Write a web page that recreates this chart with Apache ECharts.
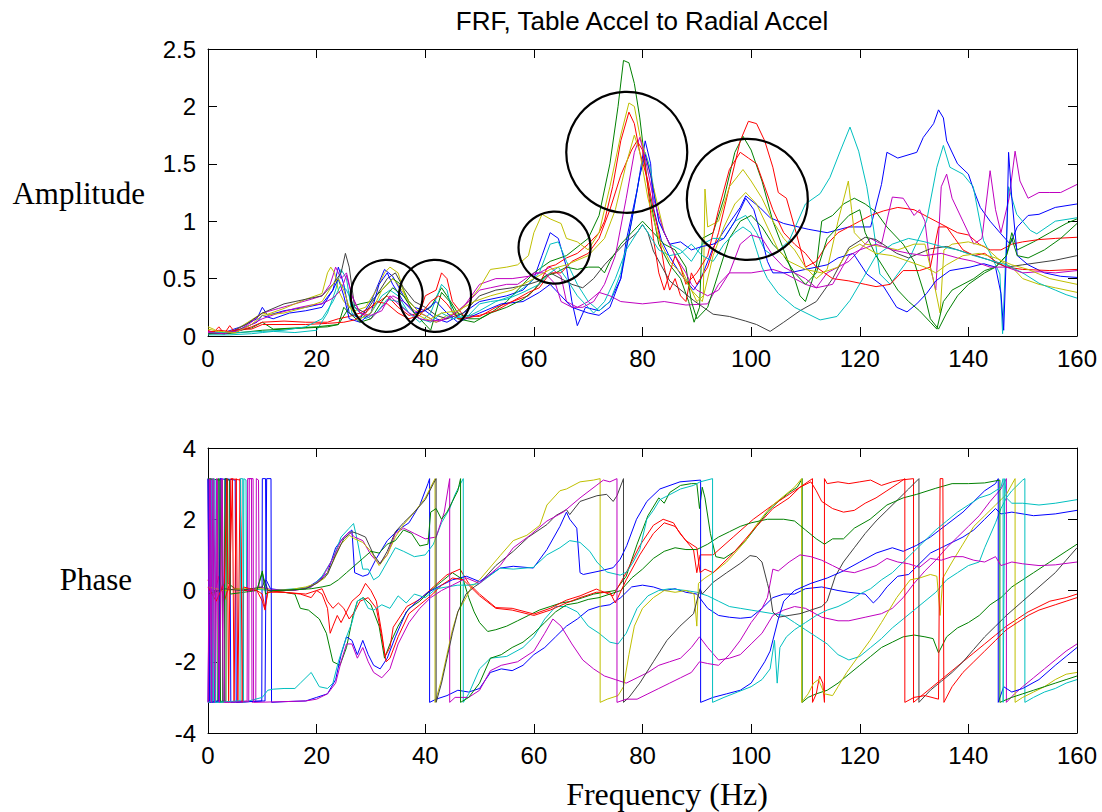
<!DOCTYPE html>
<html><head><meta charset="utf-8">
<script src="https://cdn.jsdelivr.net/npm/echarts@6/dist/echarts.min.js"></script>
<style>html,body{margin:0;padding:0;background:#fff}#c{width:1102px;height:812px}</style>
</head><body><div id="c"></div>
<script>
// ---------------- text ----------------
const chartTitle = 'FRF, Table Accel to Radial Accel';
const ampLabel = 'Amplitude';
const phaseLabel = 'Phase';
const freqLabel = 'Frequency (Hz)';

// ---------------- amplitude traces [Hz, amplitude] ----------------
const ampBlue1 = [[0,0.02],[3,0.03],[6,0.08],[9,0.15],[10,0.25],[11,0.18],[14,0.22],[18,0.25],[21,0.28],[23,0.4],[24,0.6],[25,0.45],[26,0.2],[28,0.15],[30,0.3],[32.5,0.58],[34,0.52],[36,0.35],[38,0.25],[40,0.22],[42,0.15],[44,0.12],[47,0.2],[50,0.3],[55,0.35],[58,0.4],[60,0.5],[61.5,0.7],[63,0.9],[64.5,0.85],[66,0.6],[67,0.3],[68,0.09],[69.5,0.25],[72,0.22],[74,0.3],[76,0.5],[77,0.83],[79,1.27],[80.5,1.7],[81.5,1.5],[82,1.12],[83.5,0.83],[85,0.69],[87,0.54],[89.4,0.4],[90.6,0.48],[93,0.77],[95.5,0.95],[98,1.12],[99,1.22],[101.6,1.12],[103.5,1.03],[106,0.98],[110.5,0.93],[114,0.9],[118,0.95],[122,0.95],[124,1.32],[125,1.6],[127,1.55],[130.5,1.6],[131.7,1.73],[133.6,1.85],[134.5,1.97],[135.4,1.9],[136,1.7],[138,1.5],[140,1.41],[141,1.27],[142.2,1.12],[144,1.0],[146,0.89],[147.7,0.8],[149,0.95],[151,1.05],[153,1.06],[156,1.12],[160,1.15]];
const ampGreen1 = [[0,0.02],[4,0.03],[8,0.07],[10,0.12],[12,0.06],[16,0.07],[20,0.08],[24,0.1],[26,0.25],[28,0.28],[30,0.3],[32,0.4],[34,0.5],[35.5,0.45],[37,0.3],[39,0.2],[41,0.25],[43,0.42],[44,0.35],[46,0.2],[48,0.15],[50,0.15],[52,0.2],[55,0.3],[58,0.45],[60,0.55],[63,0.65],[66,0.7],[70,0.85],[72,1.05],[74,1.5],[75.5,2.0],[76.5,2.4],[77.5,2.38],[78.5,2.2],[79.5,1.9],[81,1.3],[83,0.8],[85,0.62],[87,0.5],[88.5,0.3],[89.5,0.12],[90.5,0.25],[91,0.85],[93,0.9],[95,1.2],[97,1.6],[98.5,1.74],[100,1.62],[102,1.35],[104,1.0],[106,0.75],[108,0.5],[109,0.35],[110,0.3],[112,0.6],[113,1.0],[115,1.05],[117,1.15],[119,1.2],[121,1.15],[123,1.08],[125,0.95],[128,0.8],[130,0.65],[132,0.35],[133,0.15],[134.5,0.06],[136,0.2],[138,0.35],[140,0.45],[143,0.55],[145,0.6],[147,0.7],[148,0.9],[149,0.75],[152,0.82],[155,0.9],[158,0.98],[160,1.02]];
const ampRed1 = [[0,0.05],[1,0.03],[2,0.08],[3,0.02],[4,0.09],[5,0.03],[6,0.05],[8,0.08],[10,0.12],[14,0.13],[18,0.12],[22,0.12],[24,0.15],[26,0.17],[28,0.2],[30,0.25],[33,0.35],[35,0.25],[37,0.18],[39,0.2],[40,0.35],[42,0.4],[43,0.55],[44,0.5],[45,0.3],[47,0.18],[50,0.17],[53,0.25],[56,0.3],[59,0.35],[61,0.45],[62.5,0.6],[64,0.62],[66,0.68],[68,0.72],[70,0.8],[72,0.9],[73,1.0],[74.5,1.3],[76,1.7],[77.5,1.95],[78.5,1.85],[79.5,1.6],[81,1.35],[82,1.1],[83,0.9],[84,0.6],[85,0.4],[86,0.5],[87,0.35],[88,0.3],[89,0.55],[90,0.45],[92,0.6],[94,0.9],[96,1.3],[98,1.7],[99.5,1.87],[101,1.85],[102.5,1.7],[104,1.47],[105,1.25],[106.5,1.2],[108,0.95],[110,0.6],[112,0.65],[114,0.8],[116,0.9],[118,0.95],[120,1.0],[122,1.05],[124.4,1.09],[127,1.12],[130,1.1],[132,1.05],[134,1.0],[136,0.95],[138,0.9],[140,0.88],[142,0.8],[144,0.75],[146,0.75],[148,0.8],[150,0.82],[153,0.84],[156,0.85],[160,0.86]];
const ampCyan1 = [[0,0.01],[4,0.01],[8,0.02],[10,0.03],[12,0.04],[16,0.03],[20,0.05],[22,0.2],[23.5,0.4],[24.5,0.58],[25.5,0.5],[26.5,0.2],[28,0.15],[30,0.2],[32,0.35],[33.5,0.4],[35,0.35],[37,0.2],[39,0.12],[41,0.2],[43,0.45],[44,0.4],[45,0.2],[47,0.15],[50,0.22],[53,0.3],[56,0.35],[59,0.45],[61,0.55],[63,0.8],[64.5,0.82],[66,0.65],[68,0.45],[70,0.3],[72,0.22],[74,0.3],[76,0.55],[78,1.0],[79.5,1.4],[80.5,1.6],[81.5,1.45],[83,1.0],[85,0.8],[87,0.75],[89,0.65],[91,0.8],[93,0.85],[95,0.85],[97,1.0],[99,1.05],[101,0.9],[102.5,0.75],[104,0.7],[107,0.83],[110,1.15],[112.7,1.24],[114.5,1.38],[116.4,1.61],[118.2,1.82],[119.8,1.61],[121.3,1.3],[122.5,0.95],[123.7,0.54],[125.6,0.45],[129.3,0.69],[132.3,1.0],[134.2,1.47],[135.4,1.66],[136.6,1.47],[139,1.41],[140.9,1.3],[142.8,0.83],[144,0.72],[145.8,0.54],[146.3,0.02],[147.4,1.3],[148.9,1.06],[151.4,0.92],[152.6,0.89],[156,1.0],[160,1.03]];
const ampMagenta1 = [[0,0.04],[3,0.03],[6,0.06],[8,0.12],[10,0.2],[13,0.24],[16,0.28],[19,0.32],[21,0.35],[22.5,0.45],[23.5,0.6],[24.5,0.5],[25.5,0.55],[26.5,0.35],[28,0.2],[30,0.15],[32,0.25],[34,0.35],[36,0.3],[38,0.22],[40,0.18],[42,0.12],[44,0.15],[47,0.25],[50,0.45],[53,0.5],[56,0.5],[59,0.52],[61,0.55],[63,0.6],[65,0.52],[66,0.3],[68,0.25],[70,0.3],[72,0.38],[74,0.35],[76,0.3],[80,0.28],[84,0.3],[88,0.27],[92,0.28],[94,0.45],[96,0.55],[100,0.55],[104,0.58],[106,0.55],[108,0.5],[110,0.45],[112,0.42],[114,0.55],[116,0.6],[118,0.65],[120,0.75],[122,0.85],[124,0.8],[126,1.21],[128,1.2],[130,1.05],[131,1.1],[132,1.0],[133,0.6],[134,0.4],[135,1.3],[136,1.41],[137,1.2],[139,1.0],[141,0.8],[142.5,0.85],[144,1.44],[145,1.1],[146,0.9],[147.5,1.2],[148.6,1.61],[149.5,1.35],[151,1.2],[153,1.25],[155,1.25],[157,1.25],[160,1.32]];
const ampYellow1 = [[0,0.08],[1,0.06],[2,0.03],[4,0.02],[6,0.08],[8,0.14],[10,0.2],[11,0.19],[14,0.24],[18,0.32],[21,0.37],[22,0.55],[22.6,0.6],[23.3,0.55],[24,0.4],[25,0.3],[27,0.22],[29,0.25],[31,0.4],[32.5,0.55],[33.5,0.6],[35,0.55],[36.5,0.32],[38,0.2],[40,0.15],[42,0.12],[44,0.18],[46,0.2],[48,0.3],[50,0.42],[52,0.58],[55,0.6],[57,0.62],[59,0.7],[60,0.9],[61.5,1.06],[63,1.02],[65,0.98],[66,0.85],[68,0.82],[70,0.75],[72,0.9],[74,1.3],[76,1.75],[77.5,2.03],[78.5,2.0],[79.5,1.75],[81,1.5],[82,1.3],[84,0.9],[86,0.7],[88,0.5],[90,0.3],[91.2,0.35],[91.5,1.28],[92,0.95],[94,1.0],[96,1.3],[98.5,1.45],[100,1.35],[102,1.2],[104,1.0],[106,0.85],[108,0.75],[110,0.6],[112,0.5],[114,0.58],[116,1.0],[117.9,1.35],[118.5,1.1],[119,0.9],[121,0.8],[124,0.78],[127,0.75],[130,0.8],[132,0.8],[133.5,0.5],[134.8,0.2],[135.5,0.75],[137,0.8],[140,0.82],[143,0.78],[146,0.65],[148,0.6],[150,0.5],[153,0.45],[156,0.42],[160,0.38]];
const ampGray = [[0,0.02],[4,0.03],[7,0.1],[10,0.2],[14,0.28],[18,0.32],[21,0.35],[23,0.45],[24.5,0.55],[25.3,0.72],[26,0.6],[27,0.25],[29,0.2],[31,0.35],[33,0.5],[34.5,0.55],[36,0.42],[38,0.3],[40,0.25],[42,0.18],[44,0.15],[47,0.2],[50,0.35],[53,0.4],[56,0.42],[59,0.45],[61,0.48],[63,0.55],[65,0.5],[67,0.45],[69,0.42],[71,0.5],[73,0.62],[75,0.72],[77,0.82],[79,0.9],[80,0.97],[81,0.9],[82,0.74],[85,0.48],[89.4,0.31],[93,0.19],[96,0.17],[99,0.13],[101,0.1],[103.5,0.04],[106,0.12],[109,0.22],[112,0.3],[115,0.5],[118,0.77],[121,0.86],[123,0.84],[126.8,0.72],[129,0.68],[133,0.76],[136,0.78],[140,0.72],[144,0.66],[147,0.6],[150,0.62],[153,0.64],[156,0.66],[160,0.7]];
const ampBlue2 = [[0,0.03],[3,0.02],[6,0.06],[9,0.12],[10,0.18],[12,0.15],[15,0.2],[18,0.22],[21,0.25],[23,0.4],[24,0.5],[25,0.35],[26,0.15],[28,0.12],[30,0.2],[31.5,0.45],[33,0.55],[34,0.45],[36,0.3],[38,0.2],[40,0.22],[42,0.3],[44,0.2],[46,0.12],[50,0.2],[54,0.28],[58,0.3],[61,0.38],[63,0.45],[65,0.35],[67,0.25],[70,0.2],[72,0.18],[74,0.25],[76,0.5],[78,1.0],[79.5,1.4],[80.5,1.58],[81.5,1.4],[83,1.0],[85,0.8],[87,0.82],[89,0.75],[91,0.78],[93,0.8],[95,0.85],[97,1.0],[99,1.2],[100.5,1.1],[102,0.85],[103,0.65],[104,0.55],[106,0.55],[108,0.56],[110,0.58],[112,0.6],[114,0.62],[116,0.68],[118.8,0.72],[121.3,0.54],[124.4,0.43],[126.8,0.25],[128.7,0.21],[130.5,0.28],[132.3,0.37],[134,0.48],[136.6,0.57],[140.3,0.6],[142.8,0.63],[145,0.6],[146,0.37],[146.5,0.05],[147,0.72],[147.4,1.6],[148,1.2],[149,0.7],[151,0.62],[154,0.55],[157,0.52],[160,0.51]];
const ampGreen2 = [[0,0.02],[3,0.02],[6,0.03],[10,0.05],[14,0.06],[18,0.07],[22,0.08],[24,0.1],[25,0.25],[26,0.2],[28,0.12],[30,0.15],[32,0.3],[34,0.42],[36,0.35],[38,0.2],[40,0.1],[41,0.05],[43,0.38],[44.5,0.3],[46,0.15],[49,0.12],[52,0.2],[55,0.25],[58,0.32],[60,0.4],[62,0.52],[64,0.55],[66,0.6],[68,0.58],[70,0.6],[72,0.6],[73,0.55],[74,0.65],[76,0.8],[78,0.9],[80,1.0],[82,0.9],[84,0.8],[86,0.75],[88,0.6],[89,0.3],[90,0.15],[92,0.25],[94,0.55],[96,0.85],[98,1.0],[100,1.05],[102,0.95],[104,0.8],[106,0.7],[108,0.55],[110,0.45],[112,0.55],[114,0.85],[116,0.95],[118,1.05],[120,1.1],[121,0.9],[123,0.7],[125,0.55],[127,0.4],[129,0.3],[131,0.22],[133,0.12],[134.2,0.06],[135.4,0.3],[137,0.4],[139,0.45],[141,0.5],[143,0.57],[145,0.6],[147,0.7],[148,0.85],[149,0.7],[151,0.68],[154,0.75],[157,0.85],[160,0.98]];
const ampRed2 = [[0,0.03],[2,0.05],[4,0.04],[6,0.06],[8,0.06],[10,0.1],[14,0.1],[18,0.1],[22,0.11],[25,0.12],[27,0.14],[29,0.2],[31,0.3],[33,0.28],[35,0.2],[37,0.15],[39,0.18],[41,0.3],[42.5,0.35],[44,0.28],[46,0.15],[48,0.16],[50,0.18],[53,0.22],[56,0.3],[59,0.38],[61,0.42],[63,0.55],[65,0.55],[67,0.65],[70,0.72],[72,0.85],[74,1.1],[76,1.4],[78,1.62],[79,1.7],[80,1.62],[81,1.3],[82,0.85],[83,0.55],[84,0.4],[85,0.55],[86,0.7],[87,0.6],[88,0.45],[90,0.55],[92,0.7],[94,1.1],[96,1.45],[98,1.6],[99.5,1.55],[101,1.5],[102.5,1.3],[104,1.1],[106,0.9],[108,0.8],[110,0.72],[112,0.6],[115,0.5],[118,0.48],[121,0.45],[123,0.43],[125.6,0.45],[128,0.57],[131,0.57],[133,0.6],[134.5,0.95],[136,0.95],[137.5,0.85],[139,0.75],[141,0.7],[143,0.72],[145,0.65],[147,0.6],[150,0.58],[155,0.57],[160,0.58]];
const ampCyan2 = [[0,0.03],[5,0.03],[10,0.04],[14,0.05],[18,0.08],[21,0.15],[23,0.3],[24.5,0.45],[25.5,0.4],[27,0.25],[29,0.15],[31,0.2],[33,0.32],[35,0.3],[37,0.2],[39,0.15],[41,0.12],[43,0.2],[45,0.15],[48,0.18],[50,0.28],[52,0.3],[55,0.32],[58,0.38],[61,0.45],[63,0.55],[64.5,0.6],[66,0.5],[68,0.35],[70,0.25],[71,0.2],[73,0.3],[75,0.5],[77,0.75],[79,0.9],[80,0.97],[81,0.9],[83,0.75],[85,0.7],[87,0.72],[89,0.8],[91,0.7],[93,0.65],[95,0.8],[97,0.9],[98.5,0.95],[100,0.9],[101,0.75],[102,0.6],[103,0.5],[105,0.37],[108,0.25],[112.7,0.14],[115.8,0.17],[118.2,0.31],[120.7,0.51],[123,0.7],[126,0.8],[129,0.85],[132,0.82],[135,0.78],[138,0.75],[141,0.7],[144,0.66],[147,0.62],[150,0.55],[153,0.46],[156,0.4],[158,0.36],[160,0.33]];
const ampMagenta2 = [[0,0.03],[3,0.02],[6,0.05],[8,0.1],[10,0.15],[13,0.2],[16,0.24],[19,0.27],[21,0.28],[23,0.33],[24.5,0.4],[25.5,0.53],[26.5,0.35],[28,0.2],[30,0.18],[32,0.22],[33.5,0.35],[35,0.28],[37,0.2],[39,0.15],[41,0.13],[43,0.14],[45,0.18],[48,0.3],[50,0.4],[52,0.42],[55,0.45],[57,0.45],[60,0.55],[62,0.55],[64,0.45],[65,0.3],[67,0.25],[69,0.25],[71,0.3],[73,0.45],[75,0.7],[77,1.2],[78.5,1.6],[79.5,1.73],[80.5,1.55],[82,1.2],[84,0.9],[86,0.7],[88,0.55],[89,0.45],[90,0.4],[92,0.35],[94,0.4],[96,0.55],[98,0.8],[100,0.88],[102,0.85],[104,0.7],[106,0.6],[108,0.55],[110,0.5],[112,0.42],[115,0.45],[118,0.7],[120,0.75],[123,0.8],[126,0.75],[129,0.72],[132,0.7],[135,0.72],[138,0.68],[141,0.65],[144,0.6],[147,0.6],[150,0.55],[153,0.56],[156,0.55],[160,0.57]];
const ampYellow2 = [[0,0.06],[2,0.04],[5,0.03],[8,0.1],[10,0.18],[14,0.2],[18,0.25],[21,0.3],[23,0.45],[24,0.5],[25,0.4],[26,0.25],[28,0.15],[30,0.2],[32,0.4],[34,0.5],[35,0.45],[37,0.3],[39,0.2],[41,0.15],[43,0.2],[46,0.22],[49,0.3],[52,0.35],[56,0.4],[60,0.5],[63,0.58],[66,0.62],[70,0.7],[73,0.85],[75,1.1],[77,1.5],[78.5,1.75],[79.5,1.6],[81,1.2],[83,0.85],[85,0.65],[87,0.55],[89,0.4],[91,0.3],[93,0.7],[95,0.95],[97,1.15],[99,1.25],[101,1.15],[103,0.95],[105,0.75],[107,0.65],[110,0.58],[113,0.55],[116,0.6],[118,0.75],[120,0.8],[123,0.72],[126,0.7],[129,0.65],[132,0.6],[134,0.55],[136,0.62],[139,0.7],[142,0.72],[145,0.68],[148,0.62],[151,0.58],[155,0.5],[160,0.45]];

// circled resonance regions: centres [Hz, amplitude]
const circlesSmall = [[32.9,0.35],[41.8,0.35],[63.8,0.77]];
const circlesLarge = [[77.1,1.6],[99.3,1.19]];

// ---------------- phase traces [Hz, rad] (wrapped to +-pi) ----------------
const phaseBlue1 = [[0,-3.14],[0.4,3.14],[0.8,-3.14],[3,-3.1],[3.2,3.14],[5,3.1],[5.2,-3.14],[9.9,-3.1],[10,3.14],[10.6,3.14],[10.7,0.3],[11.5,0.05],[14,0],[18,0.05],[20,0.25],[22,0.5],[23.5,1.2],[25,1.5],[26.5,1.7],[27,0.5],[28.5,0.4],[29.5,0.45],[31,0.9],[33,1.4],[35,1.7],[37,1.9],[39,2.4],[40.5,3.0],[40.8,3.14],[40.8,-3.14],[42,-3.05],[44,-2.95],[46,-2.8],[48,-2.85],[50,-2.75],[52,-2.3],[54,-2.2],[56,-2.25],[58,-2.1],[60,-1.8],[62,-1.6],[64,-1.3],[66,-1.0],[68,-0.8],[70,-0.55],[72,-0.45],[74,-0.4],[76,-0.2],[78,0.1],[80,0.15],[82,0.1],[84,0.0],[86,0.05],[88,-0.05],[90,-0.1],[92,-0.5],[94,-0.7],[96,-0.75],[98,-0.78],[100,-0.75],[102,-0.5],[104,-0.2],[106,-0.1],[108,-0.1],[110,0.05],[113,0.1],[116,0.0],[118,-0.05],[121,-0.1],[122.5,-0.35],[123.5,-0.2],[125,0.1],[127,0.4],[129,0.45],[131,0.75],[133,1.05],[135,1.2],[137,1.35],[139,1.5],[141,1.7],[143,2.0],[145,2.3],[146,2.15],[148,2.2],[152,2.1],[156,2.15],[160,2.25]];
const phaseGreen1 = [[0,-3.14],[1.8,-3.1],[1.9,3.14],[2.6,3.1],[2.7,-3.14],[3.3,-3.1],[3.4,3.14],[3.6,3.1],[3.7,0.2],[5,0.05],[9,0.0],[10,0.5],[10.5,0.2],[11,0],[14,-0.05],[16,-0.1],[17,-0.5],[18.5,-0.55],[20.5,-0.8],[21.8,-1.2],[23,-2.0],[24.3,-2.1],[25.5,-1.6],[26.7,-0.7],[27.5,-0.3],[28.6,-0.2],[30,-0.4],[31.5,-1.0],[32.5,-1.9],[33.5,-1.5],[35,-1.0],[37,-0.5],[39,-0.3],[41,0.0],[43,0.25],[45,0.5],[47,0.3],[48,-0.2],[49,-0.6],[50,-0.9],[51.5,-1.15],[53,-1.1],[55,-1.0],[57,-0.85],[59,-0.7],[61,-0.55],[63,-0.45],[65,-0.35],[67,-0.3],[69,-0.2],[71,-0.1],[73,-0.05],[75,0.0],[77,0.4],[79,1.3],[81,2.1],[83,2.6],[84,2.45],[85,2.75],[87,2.95],[89,3.0],[90,3.0],[90.5,2.3],[91,2.9],[91.5,2.6],[92.5,1.6],[93.5,0.95],[95,0.9],[97,1.1],[99,1.4],[101,1.8],[103,2.2],[105,2.5],[107,2.75],[108.5,2.9],[109.4,3.14],[109.4,-3.14],[110.5,-3.0],[112,-2.9],[114,-2.8],[116,-2.6],[118,-2.35],[120,-2.1],[122,-1.85],[124,-1.6],[126,-1.45],[128,-1.3],[130,-1.25],[132,-1.3],[133.5,-1.35],[134.5,-1.75],[136,-1.3],[138,-1.05],[140,-0.9],[142,-0.7],[144,-0.4],[146,-0.2],[148,0.1],[150,0.3],[152,0.5],[155,0.8],[158,1.1],[160,1.3]];
const phaseRed1 = [[0,0.3],[1,-0.2],[2,0.4],[3,-0.3],[4,0.2],[4.5,3.14],[4.8,-3.14],[5.2,3.14],[5.5,-3.14],[5.9,3.14],[6.2,0.0],[9,0.0],[10,-0.1],[10.5,-0.5],[11,0.0],[14,-0.05],[18,-0.1],[20,0.0],[21,-0.1],[22,-0.5],[22.5,-1.2],[23,-1.0],[23.8,-0.7],[24.5,-0.9],[25.5,-0.6],[26.5,-0.3],[28,-0.1],[29,0.2],[30,0.0],[31,-0.3],[32,-1.2],[32.6,-1.85],[33.5,-1.6],[34.1,-1.03],[36.6,-0.45],[39,-0.25],[41.5,0.1],[44,0.44],[46.4,0.6],[48,0.2],[50,-0.1],[53,-0.48],[56,-0.5],[60,-0.66],[63,-0.5],[66,-0.27],[68.5,-0.15],[71.5,0.04],[74.6,-0.15],[77,0.5],[79.5,1.26],[82,1.83],[83.8,2.0],[85.7,1.9],[86.9,1.6],[89.4,1.14],[90,0.5],[90.6,1.0],[93,1.0],[96.7,1.5],[100.4,2.0],[104,2.4],[107,2.7],[109,2.9],[111.3,3.14],[111.3,-3.14],[112,-2.9],[112.6,-2.4],[113.2,-2.6],[113.5,-3.14],[113.5,3.14],[114,3.0],[116,3.05],[118,3.0],[120,3.05],[122,3.1],[124,2.95],[126,3.05],[127.5,3.1],[129.9,3.14],[129.9,-3.14],[131,-3.0],[133,-2.75],[135,-2.5],[137,-2.25],[139,-2.0],[141,-1.75],[143,-1.5],[145,-1.25],[147,-1.0],[149,-0.8],[151,-0.6],[153,-0.45],[155,-0.3],[158,-0.2],[160,-0.1]];
const phaseCyan1 = [[0,3.14],[0.4,-3.14],[0.7,3.14],[1.0,-3.14],[6.5,-3.1],[6.6,3.14],[7,3.1],[7.1,0.05],[12,0],[16,0.05],[19,0.1],[21,0.4],[23,0.9],[24.5,1.5],[26,1.75],[26.8,1.88],[27.5,1.4],[28.5,0.6],[29.5,0.6],[30.5,0.3],[31.5,0.4],[33,0.8],[34.5,1.2],[36,1.1],[38,0.95],[40,1.0],[41.5,1.3],[43,1.9],[44.5,2.3],[45.5,2.7],[46.5,3.0],[47,3.14],[47,-3.14],[48,-2.9],[50,-2.2],[52,-1.9],[55,-1.85],[58,-1.6],[60,-1.3],[62,-0.8],[64,-0.45],[66,-0.45],[68,-0.6],[70,-1.0],[72,-1.2],[74,-1.45],[75.5,-1.5],[77,-1.2],[79,-0.5],[81,-0.15],[83,0.0],[85,0.05],[88,0.0],[90,-0.05],[92,-0.15],[94,-0.3],[96,-0.45],[98,-0.5],[100,-0.55],[102,-0.6],[104,-0.65],[106,-0.7],[108,-0.9],[110,-1.1],[112,-1.3],[114,-1.5],[116,-1.8],[118,-1.95],[120,-1.85],[122,-1.6],[124,-1.35],[126,-1.05],[128,-0.8],[130,-0.55],[132,-0.3],[134,-0.05],[136,0.3],[138,0.5],[140,0.7],[142,0.8],[143,1.2],[145,1.9],[146,2.3],[147,2.6],[148,2.8],[150,3.1],[150.4,3.14],[150.4,-3.14],[152,-3.0],[154,-2.85],[156,-2.75],[158,-2.6],[160,-2.5]];
const phaseMagenta1 = [[0,3.14],[0.2,-3.14],[0.5,3.14],[0.8,-3.14],[1.1,3.14],[1.4,-3.14],[1.7,3.14],[2.0,-3.14],[2.4,3.14],[2.8,-3.14],[7.2,-3.1],[7.3,3.14],[8,3.14],[8.1,-3.14],[8.8,-3.1],[8.9,3.14],[9.3,3.1],[9.4,0.1],[12,0.02],[16,0],[19,0.1],[21,0.35],[23,0.9],[24.5,1.4],[26,1.65],[27,1.5],[28.5,1.4],[30,1.0],[31.5,0.75],[33,1.0],[34.5,1.6],[36,1.75],[38,1.6],[40,1.45],[42,1.5],[43.5,2.2],[44.5,3.14],[44.5,-3.14],[45.5,-3.0],[48,-3.0],[50,-2.8],[52,-2.25],[54,-2.1],[57,-2.0],[60,-1.7],[62,-1.2],[63.5,-0.8],[65,-1.0],[67,-1.5],[69,-1.95],[71,-2.2],[73,-2.4],[75,-2.5],[77,-2.6],[79,-2.45],[81,-2.3],[83,-2.1],[85,-2.0],[87,-1.9],[89,-1.6],[90.5,-1.3],[92,-1.6],[94,-1.95],[96,-1.9],[98,-1.8],[100,-1.5],[102,-1.2],[104,-0.7],[106,-0.55],[108,-0.45],[110,-0.5],[113,-0.75],[116,-0.85],[118,-0.85],[121,-0.75],[124,-0.65],[126,-0.5],[128,-0.2],[130,0.2],[132,0.55],[134,0.85],[136,1.2],[138,1.5],[140,1.8],[142,2.1],[144,2.5],[146,2.85],[147,3.14],[147,-3.14],[148.5,-2.9],[150,-2.7],[152,-2.45],[154,-2.2],[156,-1.95],[158,-1.7],[160,-1.5]];
const phaseYellow1 = [[0,0.1],[3,0],[6,0.05],[10,0.05],[12,0],[15,0.02],[18,0.1],[20,0.2],[21.5,0.35],[23,0.8],[24.5,1.3],[26,1.55],[27,1.45],[28.5,1.35],[30,1.1],[31.5,0.7],[33,1.0],[34.5,1.5],[36,1.85],[38,2.2],[40,2.6],[41.8,3.14],[41.8,-3.14],[43,-2.5],[44,-1.8],[45,-1.1],[46,-0.6],[47.5,-0.2],[48.5,0.1],[50,0.3],[53.8,0.98],[56.2,1.4],[58.7,1.55],[61.1,1.83],[62.4,2.4],[64.8,2.8],[66,2.85],[68.5,3.05],[71,3.1],[72.2,3.14],[72.2,-3.14],[73.5,-3.05],[75.5,-2.95],[76.5,-2.7],[77.5,-1.8],[78.5,-1.0],[80,-0.5],[82,-0.2],[84,0.0],[86,-0.05],[88,0.0],[89.5,-0.1],[90,-1.0],[90.3,0.2],[91.5,0.35],[93,0.5],[95.5,0.8],[97,1.05],[99,1.4],[101,1.85],[102.8,2.2],[104,2.4],[106,2.65],[108,2.9],[109.3,3.14],[109.3,-3.14],[110.5,-2.9],[111.5,-2.6],[112.4,-2.5],[113.5,-2.9],[115,-2.95],[116,-2.7],[117.6,-2.3],[119.5,-1.9],[121.9,-1.4],[124,-0.9],[126.8,-0.2],[129.3,0.3],[131,0.35],[133,0.45],[134.2,0.4],[134.8,-0.7],[135.3,0.35],[137,0.8],[139,1.3],[141,1.8],[143,2.1],[145,2.4],[147,2.7],[148.6,3.14],[148.6,-3.14],[150,-3.0],[152,-2.85],[154,-2.7],[156,-2.5],[158,-2.35],[160,-2.3]];
const phaseGray = [[0,-0.1],[3,0.05],[6,0],[10,0.1],[10.5,0.3],[11,0],[14,0],[18,0.05],[20,0.2],[22,0.45],[23.5,1.0],[25,1.45],[26.5,1.65],[27.5,1.6],[29,1.5],[30.5,1.0],[31.7,0.75],[33,1.1],[34.5,1.65],[36,1.9],[38,2.2],[40,2.55],[41.5,3.0],[42,3.14],[42,-3.14],[43,-2.6],[44,-1.9],[45,-1.2],[46,-0.6],[47.5,-0.1],[49,0.1],[50,0.2],[53,0.7],[56.2,1.1],[59,1.5],[62.4,1.85],[64,2.1],[66,2.27],[66.6,2.13],[68.5,2.5],[71.6,2.66],[73.4,2.7],[74.6,2.5],[75.3,2.66],[76.5,3.14],[76.5,-3.14],[77.5,-3.0],[79.5,-2.6],[82,-2.0],[84.5,-1.4],[86.9,-1.0],[89.4,-0.65],[90.6,0.05],[91,-0.1],[93,0.23],[95.5,0.5],[98,0.76],[99.8,0.98],[101,0.95],[102,0.8],[103,0.2],[103.5,-0.1],[104,-0.6],[105,-0.75],[107,-0.7],[109,-0.65],[111,-0.55],[113,-0.45],[114,-0.3],[115.5,0.4],[117,0.8],[119,1.2],[121,1.6],[123,1.95],[125,2.25],[127,2.55],[129,2.85],[130.9,3.14],[130.9,-3.14],[133,-2.8],[135,-2.55],[137,-2.3],[139,-2.0],[141,-1.65],[143,-1.3],[145,-1.0],[147,-0.7],[150,-0.3],[153,0.1],[156,0.5],[158,0.85],[160,1.2]];
const phaseBlue2 = [[0,3.14],[0.3,-3.14],[2,-3.1],[2.2,3.14],[4,3.1],[4.2,-3.14],[10.5,-3.1],[10.8,3.14],[11.6,3.14],[11.7,-3.14],[14,-3.12],[18,-3.1],[20,-3.0],[22,-2.9],[23.5,-2.5],[24.5,-1.8],[25.5,-1.3],[26.5,-1.4],[27.5,-1.8],[28.5,-1.4],[29.5,-1.8],[30.5,-2.1],[31.7,-2.2],[33,-1.9],[34.5,-1.3],[36.5,-0.6],[38.5,-0.3],[40.5,-0.05],[43,0.15],[45,0.3],[47.6,0.4],[50,0.25],[53.8,0.63],[56.2,0.68],[59.9,0.63],[62.4,1.15],[64.8,1.8],[66,2.2],[66.6,2.0],[67.9,1.75],[68.5,0.5],[69.1,0.45],[72.2,0.55],[74.6,0.64],[75.9,0.88],[77.1,1.26],[78.9,2.0],[80.8,2.5],[83.2,2.85],[86.9,3.05],[90.7,3.1],[90.7,-3.14],[93,-3.0],[95.5,-2.9],[98,-2.8],[100,-2.6],[102.5,-2.0],[103.5,-1.7],[105,-0.8],[106,-0.3],[108,0.0],[111,0.2],[114,0.35],[117,0.55],[120,0.8],[123,1.05],[126,1.2],[128,1.1],[130.5,1.27],[133,1.5],[136,1.85],[139,2.2],[141,2.5],[143,2.8],[145,3.0],[145.5,3.14],[145.5,-3.14],[146.5,-2.7],[148,-2.85],[150,-2.75],[153,-2.5],[156,-2.1],[158,-1.85],[160,-1.6]];
const phaseGreen2 = [[0,3.14],[2.2,3.1],[2.3,-3.14],[3,-3.1],[3.1,3.14],[4,3.1],[4.1,-0.1],[9,0.0],[10,0.55],[10.6,-0.1],[12,0],[16,0.02],[19,0.05],[21,0.1],[22.5,0.15],[24,0.3],[25.5,0.5],[27,0.7],[28.5,0.9],[30,1.1],[31.5,1.05],[33,1.3],[34.5,1.4],[36,1.7],[37.5,1.6],[39,1.25],[40.5,1.3],[41,2.2],[42,2.3],[43,2.0],[44,2.2],[45,2.5],[46,2.8],[46.5,3.14],[46.5,-3.14],[48,-3.0],[50,-2.6],[52,-1.9],[54,-1.8],[56,-1.6],[58,-1.45],[60,-1.2],[62,-0.9],[64,-0.6],[66,-0.4],[68,-0.35],[70,-0.25],[72,-0.2],[74,-0.1],[76,0.0],[78,0.35],[80,0.6],[82,0.9],[84,1.1],[86,1.2],[88,1.15],[90,1.15],[92,1.3],[94,1.5],[96,1.65],[98,1.8],[100,1.9],[103,2.0],[106,2.0],[108,1.95],[110,1.7],[112,1.45],[113.5,1.3],[115,1.45],[117,1.45],[119,1.75],[121.9,2.0],[125,2.4],[128,2.6],[130.5,2.7],[134,2.87],[137,3.0],[140,3.0],[143,3.02],[145.8,3.1],[145.8,-3.14],[148,-3.0],[150,-2.9],[152,-2.8],[154,-2.7],[156,-2.6],[158,-2.5],[160,-2.4]];
const phaseRed2 = [[0,0.1],[1.5,-0.3],[3,0.2],[3.5,3.14],[3.8,-3.14],[4.2,3.14],[6,3.1],[6.3,-3.14],[6.5,0.1],[9,0.0],[10,-0.3],[10.5,-0.55],[11,-0.05],[14,-0.05],[17,-0.1],[19,-0.2],[20,0.0],[21,0.05],[22,-0.3],[23,-0.5],[24,-0.35],[25,-0.5],[26,-0.8],[27,-0.6],[28,-0.3],[29.5,-0.2],[31,-0.5],[32,-1.3],[32.8,-2.0],[33.5,-1.9],[35,-1.3],[37,-0.65],[39,-0.4],[41,-0.15],[43,0.15],[45,0.35],[47,0.3],[49,0.0],[50,-0.15],[53,-0.5],[56,-0.55],[60,-0.7],[63,-0.55],[66,-0.35],[68.5,-0.2],[71.5,-0.05],[74,-0.05],[75,-0.35],[77,0.3],[79.5,1.0],[82,1.6],[84,1.9],[86,1.8],[88,1.4],[90,1.2],[90.6,0.5],[91.5,0.6],[93,0.5],[96.7,1.05],[100.4,1.7],[104,2.3],[107,2.6],[109,2.9],[111,3.05],[112,2.8],[113,2.5],[115,2.3],[117,2.2],[119,2.25],[121,2.45],[123,2.6],[125,2.8],[127,3.0],[128.3,3.14],[128.3,-3.14],[130,-3.0],[132,-2.95],[134.5,-3.05],[134.8,3.14],[135.3,3.14],[135.5,-3.14],[137,-2.7],[139,-2.3],[141,-2.0],[143,-1.7],[145,-1.4],[147,-1.1],[149,-0.9],[151,-0.7],[153,-0.55],[156,-0.4],[158,-0.3],[160,-0.2]];
const phaseCyan2 = [[0,-3.14],[0.9,-3.1],[1,3.14],[1.3,3.1],[1.4,-3.14],[5.9,-3.1],[6,3.14],[6.4,3.14],[6.5,-3.14],[10,-3.0],[11,-2.8],[12,-2.77],[14,-2.75],[16,-2.75],[17,-2.6],[19,-2.3],[20.5,-2.7],[22,-2.75],[23,-2.6],[24,-2.0],[25.5,-1.3],[26.5,-0.9],[27.5,-0.3],[28.5,-0.2],[29.5,-0.5],[30.5,-0.55],[32,-0.4],[33.5,-0.5],[35,-0.15],[36.5,-0.35],[38,-0.1],[40,-0.2],[42,0.05],[44,0.1],[46,0.15],[48,0.15],[50,0.2],[53.8,0.63],[56.2,0.6],[59.9,0.65],[62.4,1.0],[64.8,1.2],[66.6,1.4],[68.5,1.35],[70.3,1.1],[71.6,0.8],[73.4,0.52],[75.9,0.43],[77.1,0.52],[78.3,0.8],[79.5,1.15],[80.8,2.0],[82,2.25],[83.2,2.55],[84.5,2.65],[87,2.85],[89.4,2.95],[90.6,3.05],[92.9,3.14],[92.9,-3.14],[95,-3.0],[97.5,-2.85],[100,-2.7],[102,-2.5],[103.5,-2.2],[104.3,-1.4],[104.8,-2.6],[105.3,-1.6],[106.5,-1.3],[108,-1.1],[110,-0.9],[112,-0.7],[114,-0.55],[116,-0.45],[118,-0.3],[120,-0.1],[122,0.05],[124,0.3],[126,0.5],[128,0.8],[130,1.1],[132,1.4],[134,1.7],[136,1.95],[138,2.2],[140,2.4],[142,2.6],[144,2.7],[146,2.9],[146.4,3.14],[146.4,-3.14],[146.7,3.14],[147,2.6],[148,2.45],[150,2.45],[153,2.4],[156,2.45],[160,2.55]];
const phaseMagenta2 = [[0,-3.14],[0.3,3.14],[0.6,-3.14],[0.9,3.14],[1.2,-3.14],[1.6,3.14],[2.1,-3.14],[2.6,3.14],[3.1,-3.14],[7.5,-3.12],[7.6,3.14],[8.3,3.14],[8.4,-3.14],[14,-3.12],[18,-3.1],[20,-3.05],[22,-2.9],[23.5,-2.6],[24.5,-2.0],[25.5,-1.5],[26.5,-1.5],[27.5,-1.9],[28.5,-1.6],[29.5,-2.0],[30.5,-2.3],[32,-2.45],[33.5,-2.2],[35,-1.5],[37,-0.9],[39,-0.5],[41,-0.2],[43,0.0],[45,0.15],[47.6,0.35],[50,0.2],[53.8,0.7],[56.2,1.2],[59.3,1.55],[62.4,1.95],[65.4,2.2],[68.5,2.6],[71.6,2.96],[72.8,3.1],[74,3.05],[75.3,3.14],[75.3,-3.14],[77,-3.05],[79,-3.05],[81,-2.9],[83,-2.75],[85,-2.6],[87,-2.45],[89,-2.3],[90.5,-2.0],[92,-2.05],[94,-2.1],[96,-1.8],[98,-1.4],[100,-0.9],[102,-0.5],[103,-0.2],[104,0.6],[105,0.55],[107,0.8],[109,1.0],[111,0.95],[113,0.85],[115,0.7],[117,0.55],[119,0.5],[121,0.6],[123,0.7],[125,0.9],[127,0.8],[129,0.75],[131,0.65],[133,0.9],[135,0.85],[137,0.95],[139,0.95],[141,0.85],[143,0.8],[145,0.95],[146,0.7],[148,0.8],[150,0.75],[153,0.7],[156,0.72],[160,0.8]];

// ---------------- axes ----------------
const freqMin = 0, freqMax = 160, freqStep = 20;
const ampMin = 0, ampMax = 2.5, ampStep = 0.5;
const phaseMin = -4, phaseMax = 4, phaseStep = 2;

const C = {b:'#0000ff', g:'#008000', r:'#ff0000', c:'#00bfbf', m:'#bf00bf', y:'#bfbf00', k:'#404040'};
const ampTraces = [[ampBlue1,C.b],[ampGreen1,C.g],[ampRed1,C.r],[ampCyan1,C.c],[ampMagenta1,C.m],[ampYellow1,C.y],[ampGray,C.k],[ampBlue2,C.b],[ampGreen2,C.g],[ampRed2,C.r],[ampCyan2,C.c],[ampMagenta2,C.m],[ampYellow2,C.y]];
const phaseTraces = [[phaseBlue1,C.b],[phaseGreen1,C.g],[phaseRed1,C.r],[phaseCyan1,C.c],[phaseMagenta1,C.m],[phaseYellow1,C.y],[phaseGray,C.k],[phaseBlue2,C.b],[phaseGreen2,C.g],[phaseRed2,C.r],[phaseCyan2,C.c],[phaseMagenta2,C.m]];

const SANS = '"Liberation Sans", Arial, Helvetica, sans-serif';
const SERIF = '"Liberation Serif", "Times New Roman", serif';
const line = {show:true, onZero:false, lineStyle:{color:'#000', width:1}};
const tick = {show:true, inside:true, length:9, lineStyle:{color:'#000', width:1}};
const lab = {color:'#000', fontSize:24, fontFamily:SANS};

function xAx(grid, pos, labels){
  return {type:'value', gridIndex:grid, position:pos, min:freqMin, max:freqMax, interval:freqStep,
    axisLine:line, axisTick:tick, splitLine:{show:false},
    axisLabel: labels ? Object.assign({margin:10}, lab) : {show:false}};
}
function yAx(grid, pos, labels, mn, mx, st){
  return {type:'value', gridIndex:grid, position:pos, min:mn, max:mx, interval:st,
    axisLine:line, axisTick:tick, splitLine:{show:false},
    axisLabel: labels ? Object.assign({margin:12}, lab) : {show:false}};
}

const series = [];
ampTraces.forEach(([d,col]) => series.push({type:'line', xAxisIndex:0, yAxisIndex:0, data:d, showSymbol:false, symbol:'none',
  lineStyle:{color:col, width:1}, itemStyle:{color:col}, silent:true}));
const circleStyle = {color:'rgba(0,0,0,0)', borderColor:'#000', borderWidth:2.2, opacity:1};
series.push({type:'scatter', xAxisIndex:0, yAxisIndex:0, data:circlesSmall, symbol:'circle', symbolSize:72,
  itemStyle:circleStyle, silent:true, z:5});
series.push({type:'scatter', xAxisIndex:0, yAxisIndex:0, data:circlesLarge, symbol:'circle', symbolSize:121,
  itemStyle:circleStyle, silent:true, z:5});
phaseTraces.forEach(([d,col]) => series.push({type:'line', xAxisIndex:2, yAxisIndex:2, data:d, showSymbol:false, symbol:'none',
  lineStyle:{color:col, width:1}, itemStyle:{color:col}, silent:true}));

const chart = echarts.init(document.getElementById('c'), null, {renderer:'svg'});
chart.setOption({
  animation:false,
  backgroundColor:'#fff',
  grid:[{left:208, right:25, top:49, height:287}, {left:208, right:25, top:448, height:285}],
  xAxis:[xAx(0,'bottom',true), xAx(0,'top',false), xAx(1,'bottom',true), xAx(1,'top',false)],
  yAxis:[yAx(0,'left',true,ampMin,ampMax,ampStep), yAx(0,'right',false,ampMin,ampMax,ampStep),
         yAx(1,'left',true,phaseMin,phaseMax,phaseStep), yAx(1,'right',false,phaseMin,phaseMax,phaseStep)],
  graphic:[
    {type:'text', x:642, y:21, style:{text:chartTitle, fontSize:26, fontFamily:SANS, fill:'#000', textAlign:'center', textVerticalAlign:'middle'}},
    {type:'text', x:145, y:193, style:{text:ampLabel, fontSize:31, fontFamily:SERIF, fill:'#000', textAlign:'right', textVerticalAlign:'middle'}},
    {type:'text', x:132, y:579, style:{text:phaseLabel, fontSize:31, fontFamily:SERIF, fill:'#000', textAlign:'right', textVerticalAlign:'middle'}},
    {type:'text', x:667, y:794, style:{text:freqLabel, fontSize:32, fontFamily:SERIF, fill:'#000', textAlign:'center', textVerticalAlign:'middle'}}
  ],
  series:series
});
</script>
</body></html>
